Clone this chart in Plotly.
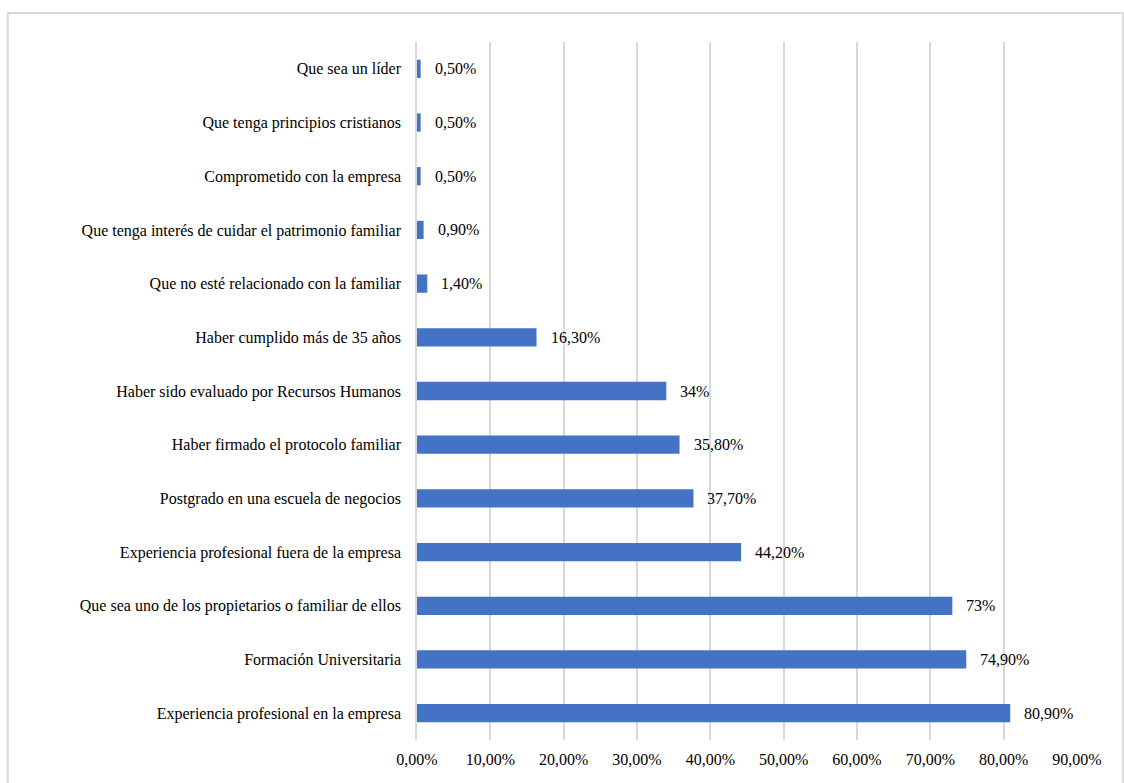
import plotly.graph_objects as go

# Criterios para elegir al sucesor (porcentaje de respuestas)
criterios = [
    "Que sea un líder",
    "Que tenga principios cristianos",
    "Comprometido con la empresa",
    "Que tenga interés de cuidar el patrimonio familiar",
    "Que no esté relacionado con la familiar",
    "Haber cumplido más de 35 años",
    "Haber sido evaluado por Recursos Humanos",
    "Haber firmado el protocolo familiar",
    "Postgrado en una escuela de negocios",
    "Experiencia profesional fuera de la empresa",
    "Que sea uno de los propietarios o familiar de ellos",
    "Formación Universitaria",
    "Experiencia profesional en la empresa",
]
porcentajes = [0.5, 0.5, 0.5, 0.9, 1.4, 16.3, 34, 35.8, 37.7, 44.2, 73, 74.9, 80.9]
etiquetas = ["0,50%", "0,50%", "0,50%", "0,90%", "1,40%", "16,30%", "34%",
             "35,80%", "37,70%", "44,20%", "73%", "74,90%", "80,90%"]
ticks_x = [0, 10, 20, 30, 40, 50, 60, 70, 80, 90]
ticks_txt = ["0,00%", "10,00%", "20,00%", "30,00%", "40,00%", "50,00%",
             "60,00%", "70,00%", "80,00%", "90,00%"]

FONT = "'Liberation Serif', 'Times New Roman', serif"
AZUL = "#4472C4"
GRIS = "#d9d9d9"

fig = go.Figure()
fig.add_trace(go.Bar(
    x=porcentajes,
    y=criterios,
    orientation="h",
    marker=dict(color=AZUL, line=dict(width=0)),
    width=0.34,
    hoverinfo="skip",
))

for val, cat, txt in zip(porcentajes, criterios, etiquetas):
    fig.add_annotation(
        x=val, y=cat, text=txt, showarrow=False,
        xanchor="left", yanchor="middle", xshift=12,
        font=dict(family=FONT, size=16, color="#000000"),
    )

# Marco exterior del gráfico
fig.add_shape(
    type="rect", xref="paper", yref="paper",
    x0=-0.620, x1=1.0695, y0=-0.2, y1=1.0415,
    line=dict(color=GRIS, width=2), fillcolor="rgba(0,0,0,0)",
    layer="below",
)

fig.update_layout(
    width=1124, height=783,
    margin=dict(l=417, r=47, t=42, b=43),
    paper_bgcolor="white", plot_bgcolor="white",
    showlegend=False,
    font=dict(family=FONT, size=16, color="#000000"),
    xaxis=dict(
        range=[0, 90], tickvals=ticks_x, ticktext=ticks_txt,
        showgrid=True, gridcolor=GRIS, gridwidth=1.5,
        zeroline=False,
        showline=False, ticks="",
        tickfont=dict(family=FONT, size=16, color="#000000"),
        ticklabelstandoff=8,
        fixedrange=True,
    ),
    yaxis=dict(
        autorange="reversed", showgrid=False, zeroline=False,
        showline=True, linecolor=GRIS, linewidth=1.5,
        ticks="", ticklabelstandoff=11,
        tickfont=dict(family=FONT, size=16, color="#000000"),
        fixedrange=True,
    ),
)

fig.write_html("out.html")
